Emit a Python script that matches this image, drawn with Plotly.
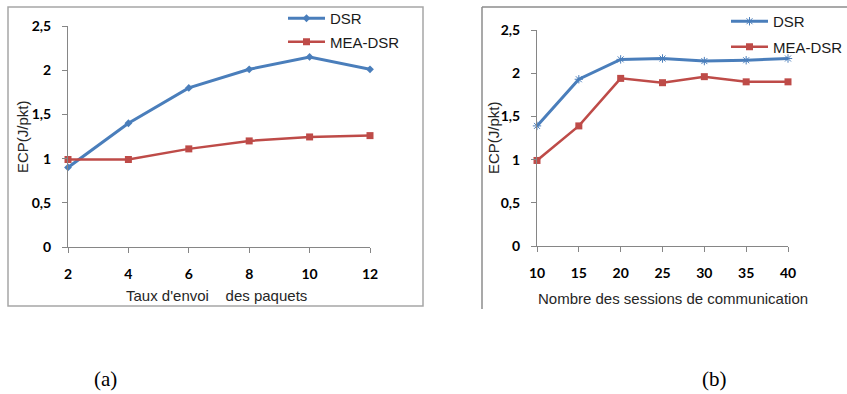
import plotly.graph_objects as go

# Panel (a): energy per packet vs. sending rate
rate = [2, 4, 6, 8, 10, 12]
dsr_rate = [0.9, 1.4, 1.8, 2.01, 2.15, 2.01]
mea_rate = [0.99, 0.99, 1.11, 1.2, 1.245, 1.26]

# Panel (b): energy per packet vs. number of sessions
sessions = [10, 15, 20, 25, 30, 35, 40]
dsr_sess = [1.39, 1.93, 2.16, 2.17, 2.14, 2.15, 2.17]
mea_sess = [0.99, 1.39, 1.94, 1.89, 1.96, 1.90, 1.90]

y_ticks = [0, 0.5, 1, 1.5, 2, 2.5]
y_ticktext = ["0", "0,5", "1", "1,5", "2", "2,5"]

BLUE = "#4A7EBB"
RED = "#BE4B48"
AXIS = "#868686"
W, H = 847, 394


def px_x(p):
    return p / W


def px_y(p):
    return 1 - p / H


fig = go.Figure()

fig.add_trace(go.Scatter(x=rate, y=dsr_rate, name="DSR", mode="lines+markers",
                         line=dict(color=BLUE, width=3),
                         marker=dict(symbol="diamond", size=6, color=BLUE),
                         xaxis="x", yaxis="y", legend="legend", legendgroup="a1",
                         cliponaxis=False))
fig.add_trace(go.Scatter(x=rate, y=mea_rate, name="MEA-DSR", mode="lines+markers",
                         line=dict(color=RED, width=2.5),
                         marker=dict(symbol="square", size=7, color=RED),
                         xaxis="x", yaxis="y", legend="legend", legendgroup="a2",
                         cliponaxis=False))
fig.add_trace(go.Scatter(x=sessions, y=dsr_sess, name="DSR", mode="lines+markers",
                         line=dict(color=BLUE, width=3),
                         marker=dict(symbol="asterisk-open", size=7,
                                     line=dict(color=BLUE, width=1)),
                         xaxis="x2", yaxis="y2", legend="legend2", legendgroup="b1",
                         cliponaxis=False))
fig.add_trace(go.Scatter(x=sessions, y=mea_sess, name="MEA-DSR", mode="lines+markers",
                         line=dict(color=RED, width=2.5),
                         marker=dict(symbol="square", size=7, color=RED),
                         xaxis="x2", yaxis="y2", legend="legend2", legendgroup="b2",
                         cliponaxis=False))

tick_font = dict(family="Lato", size=14, color="#000000", weight="bold")
common_x = dict(showline=True, linecolor=AXIS, linewidth=1, ticks="outside",
                ticklen=5, tickcolor=AXIS, showgrid=False, zeroline=False,
                tickfont=tick_font, ticklabelstandoff=9, fixedrange=True)
common_y = dict(showline=True, linecolor=AXIS, linewidth=1, ticks="outside",
                ticklen=5, tickcolor=AXIS, showgrid=False, zeroline=False,
                tickfont=tick_font, tickvals=y_ticks, ticktext=y_ticktext,
                range=[0, 2.5], ticklabelstandoff=8, fixedrange=True)

legend_font = dict(family="Liberation Sans", size=15, color="#1a1a1a")
title_font = dict(family="Liberation Sans", size=15, color="#262626")
caption_font = dict(family="Liberation Serif", size=21, color="#000000")


def label(text, x, y, font, angle=0):
    return dict(text=text, xref="paper", yref="paper", x=px_x(x), y=px_y(y),
                xanchor="center", yanchor="middle", textangle=angle,
                showarrow=False, font=font)


fig.update_layout(
    width=W, height=H, autosize=False,
    margin=dict(l=0, r=0, t=0, b=0, autoexpand=False),
    paper_bgcolor="white", plot_bgcolor="white",
    xaxis=dict(common_x, domain=[px_x(68), px_x(370)], range=[2, 12],
               tickvals=rate, anchor="y"),
    yaxis=dict(common_y, domain=[px_y(247), px_y(26)], anchor="x"),
    xaxis2=dict(common_x, domain=[px_x(537), px_x(788)], range=[10, 40],
                tickvals=sessions, anchor="y2"),
    yaxis2=dict(common_y, domain=[px_y(246), px_y(30)], anchor="x2"),
    legend=dict(x=px_x(283), y=px_y(2), xanchor="left", yanchor="top",
                font=legend_font, bgcolor="rgba(0,0,0,0)", itemwidth=37,
                tracegroupgap=1),
    legend2=dict(x=px_x(726), y=px_y(5), xanchor="left", yanchor="top",
                 font=legend_font, bgcolor="rgba(0,0,0,0)", itemwidth=37,
                 tracegroupgap=3),
    shapes=[
        dict(type="rect", xref="paper", yref="paper",
             x0=px_x(8), x1=px_x(423), y0=px_y(306), y1=px_y(7),
             line=dict(color="#A6A6A6", width=1.5)),
        dict(type="line", xref="paper", yref="paper",
             x0=px_x(482), x1=px_x(482), y0=px_y(309), y1=px_y(7),
             line=dict(color="#8C8C8C", width=1.5)),
        dict(type="line", xref="paper", yref="paper",
             x0=px_x(482), x1=1, y0=px_y(7), y1=px_y(7),
             line=dict(color="#8C8C8C", width=1.5)),
    ],
    annotations=[
        label("ECP(J/pkt)", 22, 137, title_font, -90),
        label("Taux d'envoi\u00a0\u00a0\u00a0\u00a0des paquets", 217, 295, title_font),
        label("ECP(J/pkt)", 493, 138, title_font, -90),
        label("Nombre des sessions de communication", 673, 298, title_font),
        label("(a)", 105, 379, caption_font),
        label("(b)", 714, 379, caption_font),
    ],
)

fig.write_html("out.html")
